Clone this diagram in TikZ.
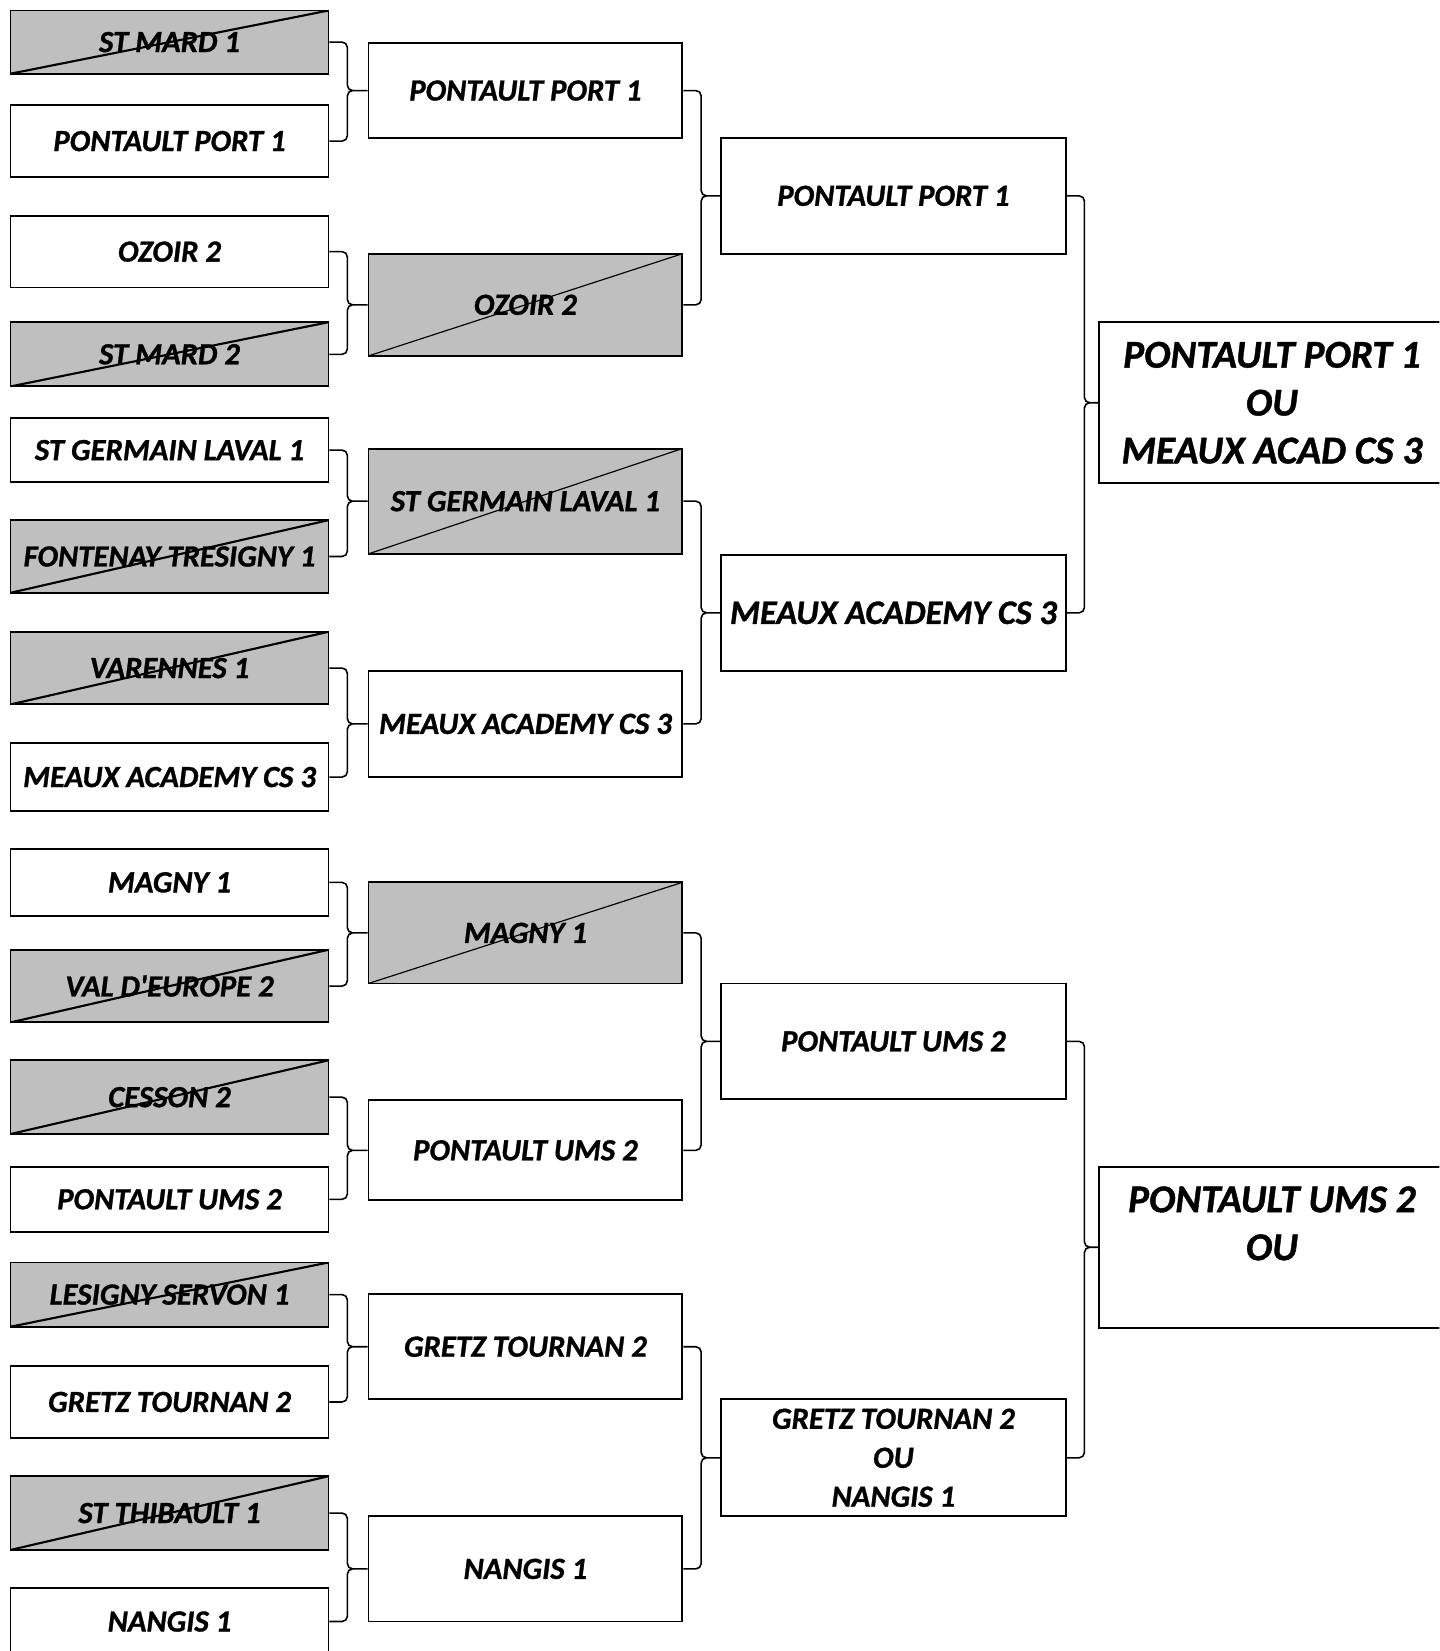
\documentclass[tikz,border=0pt]{standalone}
\usepackage{fontspec}
\setmainfont{Carlito}[BoldItalicFeatures={FakeBold=1}]

\definecolor{boxgray}{RGB}{191,191,191}
\tikzset{
  team/.style={draw, line width=0.9pt, inner sep=0pt, align=center,
    font=\bfseries\itshape\fontsize{14.6pt}{18.5pt}\selectfont},
  lost/.style={team, fill=boxgray,
    path picture={\draw[line width=#1] (path picture bounding box.south west) -- (path picture bounding box.north east);}},
  lost/.default=1pt,
  first/.style={minimum width=151pt},
  second/.style={minimum width=149pt, minimum height=50pt},
  third/.style={team, minimum width=163.5pt, minimum height=55pt},
  final/.style={team, minimum width=164pt, minimum height=76.5pt,
    font=\bfseries\itshape\fontsize{18.7pt}{22.75pt}\selectfont},
  link/.style={line width=0.75pt, rounded corners=2.5pt}
}
\newcommand{\joinbrace}[3]{\draw[link] (#1.east) -- ++(17,0) |- (#3.west) (#2.east) -- ++(17,0) |- (#3.west);}

\begin{document}
\begin{tikzpicture}[x=0.5pt,y=-0.5pt]
\clip (0,0) rectangle (1367,1568);
% first round
\node[lost,first,minimum height=30pt] at (161,40) (a1) {ST MARD 1};
\node[team,first,minimum height=34pt] at (161,134) (a2) {PONTAULT PORT 1};
\node[team,first,minimum height=34pt] at (161,239) (a3) {OZOIR 2};
\node[lost,first,minimum height=30.5pt] at (161,336.5) (a4) {ST MARD 2};
\node[team,first,minimum height=30.5pt] at (161,427.5) (a5) {ST GERMAIN LAVAL 1};
\node[lost,first,minimum height=34.5pt] at (161,528.5) (a6) {FONTENAY TRESIGNY 1};
\node[lost,first,minimum height=34.5pt] at (161,634.5) (a7) {VARENNES 1};
\node[team,first,minimum height=32pt] at (161,738) (a8) {MEAUX ACADEMY CS 3};
\node[team,first,minimum height=32pt] at (161,838) (a9) {MAGNY 1};
\node[lost,first,minimum height=34.5pt] at (161,936.5) (a10) {VAL D\textquotesingle EUROPE 2};
\node[lost,first,minimum height=35pt] at (161,1042) (a11) {CESSON 2};
\node[team,first,minimum height=31pt] at (161,1139) (a12) {PONTAULT UMS 2};
\node[lost,first,minimum height=30.5pt] at (161,1229.5) (a13) {LESIGNY SERVON 1};
\node[team,first,minimum height=34.5pt] at (161,1331.5) (a14) {GRETZ TOURNAN 2};
\node[lost,first,minimum height=35pt] at (161,1437) (a15) {ST THIBAULT 1};
\node[team,first,minimum height=32pt] at (161,1540) (a16) {NANGIS 1};
% second round
\node[team,second,minimum height=45pt] at (499,86) (b1) {PONTAULT PORT 1};
\node[lost=0.55pt,second,minimum height=48.5pt] at (499,289.5) (b2) {OZOIR 2};
\node[lost=0.55pt,second] at (499,476) (b3) {ST GERMAIN LAVAL 1};
\node[team,second,minimum height=50.5pt] at (499,687.5) (b4) {MEAUX ACADEMY CS 3};
\node[lost=0.55pt,second,minimum height=48pt] at (499,886) (b5) {MAGNY 1};
\node[team,second,minimum height=47.5pt] at (499,1092.5) (b6) {PONTAULT UMS 2};
\node[team,second] at (499,1279) (b7) {GRETZ TOURNAN 2};
\node[team,second] at (499,1490) (b8) {NANGIS 1};
% third round
\node[third] at (848.5,186) (c1) {PONTAULT PORT 1};
\node[third,font=\bfseries\itshape\fontsize{16.3pt}{19pt}\selectfont] at (848.5,582) (c2) {MEAUX ACADEMY CS 3};
\node[third] at (848.5,989) (c3) {PONTAULT UMS 2};
\node[third,minimum height=55.5pt] at (848.5,1384.5) (c4) {GRETZ TOURNAN 2\\OU\\NANGIS 1};
% last round
\node[final] at (1208,382.5) (d1) {PONTAULT PORT 1\\OU\\MEAUX ACAD CS 3};
\node[final] at (1208,1184.5) (d2) {PONTAULT UMS 2\\OU\\\mbox{}};
% braces
\joinbrace{a1}{a2}{b1}
\joinbrace{a3}{a4}{b2}
\joinbrace{a5}{a6}{b3}
\joinbrace{a7}{a8}{b4}
\joinbrace{a9}{a10}{b5}
\joinbrace{a11}{a12}{b6}
\joinbrace{a13}{a14}{b7}
\joinbrace{a15}{a16}{b8}
\joinbrace{b1}{b2}{c1}
\joinbrace{b3}{b4}{c2}
\joinbrace{b5}{b6}{c3}
\joinbrace{b7}{b8}{c4}
\joinbrace{c1}{c2}{d1}
\joinbrace{c3}{c4}{d2}
\end{tikzpicture}
\end{document}
